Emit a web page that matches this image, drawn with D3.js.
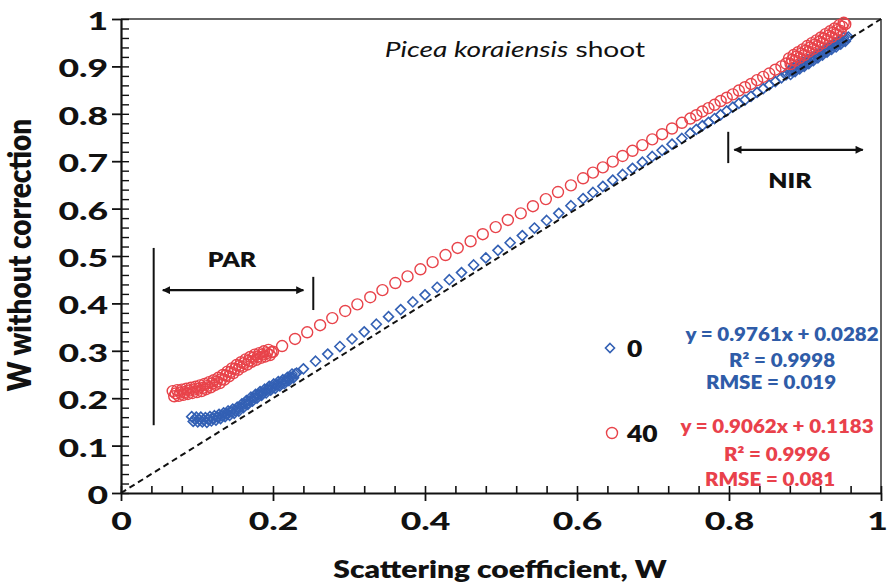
<!DOCTYPE html>
<html><head><meta charset="utf-8">
<script src="https://cdn.jsdelivr.net/npm/d3@7"></script>
<style>body{margin:0;background:#fff}svg{display:block}text{font-family:Lato,"Open Sans",sans-serif}</style>
</head><body><svg id="c" width="890" height="586"></svg>
<script>
// ---------------- data ----------------
const seriesNames = ["0", "40"];
const blueX = [0.093,0.095,0.097,0.099,0.101,0.103,0.105,0.107,0.109,0.111,0.113,0.115,0.117,0.119,0.121,0.123,0.125,0.127,0.129,0.131,0.133,0.135,0.137,0.139,0.141,0.143,0.145,0.147,0.149,0.151,0.153,0.155,0.157,0.159,0.161,0.163,0.165,0.167,0.169,0.171,0.173,0.175,0.177,0.179,0.181,0.183,0.185,0.187,0.189,0.191,0.193,0.195,0.197,0.199,0.201,0.203,0.205,0.207,0.209,0.211,0.213,0.215,0.217,0.219,0.221,0.223,0.225,0.227,0.229,0.231,
  0.240,0.256,0.272,0.288,0.304,0.320,0.336,0.352,0.368,0.384,0.400,0.416,0.432,0.448,0.464,0.480,0.496,0.512,0.528,0.544,0.560,0.576,0.592,0.608,
  0.621,0.634,0.647,0.660,0.673,0.686,0.699,0.712,0.725,0.738,
  0.749,0.757,0.765,0.773,0.781,0.789,0.797,0.805,0.813,0.821,0.829,0.837,0.845,0.853,0.861,0.869,0.875,
  0.879,0.881,0.883,0.885,0.887,0.889,0.891,0.893,0.895,0.897,0.899,0.901,0.903,0.905,0.907,0.909,0.911,0.913,0.915,0.917,0.919,0.921,0.923,0.925,0.927,0.929,0.931,0.933,0.935,0.937,0.939,0.941,0.943,0.945,0.947,0.949,0.951,0.953,0.955,0.957];
const blueY = [0.161,0.151,0.156,0.160,0.150,0.155,0.160,0.150,0.154,0.159,0.149,0.155,0.161,0.152,0.157,0.163,0.154,0.160,0.166,0.157,0.163,0.169,0.161,0.167,0.173,0.164,0.171,0.177,0.168,0.174,0.181,0.173,0.181,0.188,0.180,0.188,0.195,0.187,0.194,0.202,0.194,0.201,0.208,0.200,0.207,0.214,0.206,0.212,0.219,0.211,0.218,0.225,0.217,0.223,0.230,0.221,0.228,0.235,0.226,0.233,0.239,0.231,0.237,0.244,0.237,0.244,0.251,0.243,0.251,0.253,
  0.262,0.278,0.293,0.309,0.325,0.340,0.356,0.372,0.387,0.403,0.418,0.434,0.450,0.465,0.481,0.496,0.512,0.528,0.543,0.559,0.575,0.590,0.606,0.621,
  0.634,0.647,0.660,0.672,0.685,0.698,0.710,0.723,0.736,0.748,
  0.759,0.767,0.775,0.782,0.790,0.798,0.806,0.814,0.822,0.829,0.837,0.845,0.853,0.861,0.868,0.876,0.882,
  0.891,0.883,0.890,0.897,0.889,0.896,0.903,0.895,0.902,0.909,0.900,0.907,0.914,0.906,0.913,0.920,0.912,0.919,0.926,0.918,0.925,0.932,0.924,0.931,0.938,0.930,0.937,0.944,0.936,0.943,0.949,0.941,0.948,0.955,0.947,0.954,0.961,0.953,0.960,0.962];
const redX = [0.068,0.070,0.072,0.074,0.076,0.078,0.080,0.082,0.084,0.086,0.088,0.090,0.092,0.094,0.096,0.098,0.100,0.102,0.104,0.106,0.108,0.110,0.112,0.114,0.116,0.118,0.120,0.122,0.124,0.126,0.128,0.130,0.132,0.134,0.136,0.138,0.140,0.142,0.144,0.146,0.148,0.150,0.152,0.154,0.156,0.158,0.160,0.162,0.164,0.166,0.168,0.170,0.172,0.174,0.176,0.178,0.180,0.182,0.184,0.186,0.188,0.190,0.192,0.194,0.196,0.198,0.200,
  0.212,0.229,0.245,0.262,0.278,0.295,0.311,0.328,0.344,0.361,0.377,0.394,0.410,0.427,0.443,0.460,0.476,0.493,0.509,0.526,0.542,0.559,0.575,0.592,0.608,
  0.621,0.634,0.647,0.660,0.673,0.686,0.699,0.712,0.725,0.738,
  0.749,0.757,0.765,0.773,0.781,0.789,0.797,0.805,0.813,0.821,0.829,0.837,0.845,0.853,0.861,0.869,0.875,
  0.879,0.881,0.883,0.885,0.887,0.889,0.891,0.893,0.895,0.897,0.899,0.901,0.903,0.905,0.907,0.909,0.911,0.913,0.915,0.917,0.919,0.921,0.923,0.925,0.927,0.929,0.931,0.933,0.935,0.937,0.939,0.941,0.943,0.945,0.947,0.949,0.951,0.953];
const redY = [0.215,0.204,0.210,0.217,0.205,0.212,0.218,0.207,0.213,0.220,0.209,0.216,0.222,0.211,0.218,0.224,0.213,0.220,0.227,0.215,0.222,0.230,0.219,0.226,0.234,0.223,0.231,0.238,0.228,0.235,0.243,0.232,0.240,0.249,0.239,0.248,0.256,0.246,0.255,0.263,0.253,0.262,0.270,0.260,0.268,0.276,0.266,0.274,0.282,0.271,0.279,0.287,0.277,0.285,0.292,0.281,0.288,0.295,0.285,0.292,0.299,0.288,0.295,0.302,0.291,0.297,0.298,
  0.310,0.325,0.339,0.354,0.369,0.384,0.398,0.413,0.428,0.443,0.457,0.472,0.487,0.502,0.517,0.531,0.546,0.561,0.576,0.590,0.605,0.620,0.635,0.649,0.664,
  0.676,0.687,0.699,0.711,0.722,0.734,0.746,0.757,0.769,0.781,
  0.790,0.797,0.805,0.812,0.819,0.827,0.834,0.841,0.849,0.856,0.863,0.871,0.878,0.885,0.893,0.900,0.906,
  0.917,0.905,0.914,0.924,0.912,0.921,0.930,0.918,0.927,0.936,0.924,0.933,0.943,0.931,0.940,0.949,0.937,0.946,0.955,0.943,0.952,0.961,0.949,0.959,0.968,0.956,0.965,0.974,0.962,0.971,0.980,0.968,0.977,0.987,0.975,0.984,0.992,0.989];
const xTickValues = [0, 0.2, 0.4, 0.6, 0.8, 1];
const xTickLabels = ["0", "0.2", "0.4", "0.6", "0.8", "1"];
const yTickValues = [0, 0.1, 0.2, 0.3, 0.4, 0.5, 0.6, 0.7, 0.8, 0.9, 1];
const yTickLabels = ["0", "0.1", "0.2", "0.3", "0.4", "0.5", "0.6", "0.7", "0.8", "0.9", "1"];
const fitBlue = ["y = 0.9761x + 0.0282", "R² = 0.9998", "RMSE = 0.019"];
const fitRed = ["y = 0.9062x + 0.1183", "R² = 0.9996", "RMSE = 0.081"];

// ---------------- drawing ----------------
const TSX = 1.42; // horizontal stretch of tick lettering
const BLUE = "#3360b4", RED = "#e8434a", BLUE_T = "#2f5ca8", RED_T = "#e9414b";
const svg = d3.select("#c");
const x = d3.scaleLinear().domain([0, 1]).range([121, 881]);
const y = d3.scaleLinear().domain([0, 1]).range([493, 19]);

function stext(px, py, str, o = {}) {
  const g = svg.append("g").attr("transform", `translate(${px},${py}) scale(${o.sx || 1.2},1)` + (o.rot ? ` rotate(${o.rot})` : ""));
  const t = g.append("text").attr("text-anchor", o.anchor || "middle")
    .attr("font-size", o.size || 20).attr("font-weight", o.weight || 800)
    .attr("fill", o.fill || "#111");
  if (o.parts) o.parts.forEach(p => t.append("tspan").attr("font-style", p.italic ? "italic" : "normal").text(p.t));
  else t.text(str);
  return t;
}

// frame
svg.append("line").attr("x1", x(0)).attr("x2", x(1)).attr("y1", y(1)).attr("y2", y(1)).attr("stroke", "#333").attr("stroke-width", 1.5);
svg.append("line").attr("x1", x(1)).attr("x2", x(1)).attr("y1", y(1)).attr("y2", y(0)).attr("stroke", "#333").attr("stroke-width", 1.5);

// minor ticks (inside)
const xMinor = d3.range(0, 1.0001, 0.04);
const yMinor = d3.range(0, 1.0001, 0.02);
svg.append("g").attr("transform", `translate(0,${y(0)})`)
  .call(d3.axisTop(x).tickValues(xMinor).tickSize(7).tickSizeOuter(0).tickFormat(""))
  .call(g => g.select(".domain").remove()).selectAll("line").attr("stroke", "#111").attr("stroke-width", 1.6);
svg.append("g").attr("transform", `translate(${x(0)},0)`)
  .call(d3.axisRight(y).tickValues(yMinor).tickSize(8).tickSizeOuter(0).tickFormat(""))
  .call(g => g.select(".domain").remove()).selectAll("line").attr("stroke", "#111").attr("stroke-width", 1.4);

// major axes
const xa = svg.append("g").attr("transform", `translate(0,${y(0)})`)
  .call(d3.axisBottom(x).tickValues(xTickValues).tickSize(8).tickSizeOuter(0).tickFormat((d, i) => xTickLabels[i]));
xa.select(".domain").attr("stroke", "#111").attr("stroke-width", 2.2);
xa.selectAll("line").attr("stroke", "#111").attr("stroke-width", 1.8);
xa.selectAll("text").attr("font-size", 25).attr("font-weight", 900).attr("fill", "#111")
  .attr("font-family", "Lato").attr("y", 37).attr("dy", 0).attr("transform", `scale(${TSX},1)`)
  .attr("x", d => d === 1 ? -4 / TSX : 0);

const ya = svg.append("g").attr("transform", `translate(${x(0)},0)`)
  .call(d3.axisLeft(y).tickValues(yTickValues).tickSize(9).tickSizeOuter(0).tickFormat((d, i) => yTickLabels[i]));
ya.select(".domain").attr("stroke", "#111").attr("stroke-width", 2.2);
ya.selectAll("line").attr("stroke", "#111").attr("stroke-width", 1.8);
ya.selectAll("text").attr("font-size", 25).attr("font-weight", 900).attr("fill", "#111")
  .attr("font-family", "Lato").attr("x", -13 / TSX).attr("dy", "0.42em").attr("transform", `scale(${TSX},1)`);

// series markers
const blue = blueX.map((v, i) => [v, blueY[i]]);
const red = redX.map((v, i) => [v, redY[i]]);
svg.append("g").selectAll("path").data(blue).join("path")
  .attr("d", "M0,-5L5,0L0,5L-5,0Z")
  .attr("transform", d => `translate(${x(d[0])},${y(d[1])})`)
  .attr("fill", "none").attr("stroke", BLUE).attr("stroke-width", 1.6);
svg.append("g").selectAll("circle").data(red).join("circle")
  .attr("cx", d => x(d[0])).attr("cy", d => y(d[1])).attr("r", 5.5)
  .attr("fill", "none").attr("stroke", RED).attr("stroke-width", 1.4);

// 1:1 line
svg.append("line").attr("x1", x(0)).attr("y1", y(0)).attr("x2", x(1)).attr("y2", y(1))
  .attr("stroke", "#111").attr("stroke-width", 2).attr("stroke-dasharray", "6,4");

// arrows
const defs = svg.append("defs");
defs.append("marker").attr("id", "ah").attr("viewBox", "0 0 10 10").attr("refX", 9).attr("refY", 5)
  .attr("markerWidth", 10).attr("markerHeight", 8).attr("markerUnits", "userSpaceOnUse").attr("orient", "auto-start-reverse")
  .append("path").attr("d", "M0,0L10,5L0,10Z").attr("fill", "#111");
function vbar(xv, y0, y1) {
  svg.append("line").attr("x1", x(xv)).attr("x2", x(xv)).attr("y1", y(y0)).attr("y2", y(y1)).attr("stroke", "#111").attr("stroke-width", 2);
}
function arrow(x0, x1, yv) {
  svg.append("line").attr("x1", x(x0)).attr("x2", x(x1)).attr("y1", y(yv)).attr("y2", y(yv))
    .attr("stroke", "#111").attr("stroke-width", 2.2).attr("marker-start", "url(#ah)").attr("marker-end", "url(#ah)");
}
vbar(0.043, 0.143, 0.517); vbar(0.253, 0.386, 0.456); arrow(0.055, 0.240, 0.428);
stext(x(0.146), y(0.477), "PAR", { size: 21, sx: 1.18 });
vbar(0.799, 0.696, 0.762); arrow(0.807, 0.976, 0.724);
stext(x(0.880), y(0.643), "NIR", { size: 21, sx: 1.18 });

// title
stext(515, 57, null, { size: 22, weight: "normal", sx: 1.28, parts: [{ t: "Picea koraiensis", italic: true }, { t: " shoot" }] });

// axis titles
stext(500, 578, "Scattering coefficient, W", { size: 25, sx: 1.2 });
stext(31, 255, "W without correction", { size: 28, rot: -90, sx: 1.15 });

// legend
svg.append("path").attr("d", "M0,-4.5L4.5,0L0,4.5L-4.5,0Z").attr("transform", "translate(610,348)")
  .attr("fill", "none").attr("stroke", BLUE).attr("stroke-width", 1.6);
stext(627, 357, seriesNames[0], { size: 22, anchor: "start", sx: 1.2 });
svg.append("circle").attr("cx", 612).attr("cy", 433).attr("r", 5.5).attr("fill", "none").attr("stroke", RED).attr("stroke-width", 1.4);
stext(627, 442, seriesNames[1], { size: 22, anchor: "start", sx: 1.2 });

// fit annotations
const fs = { size: 18, sx: 1.14 };
stext(782, 341, fitBlue[0], { ...fs, fill: BLUE_T });
stext(782, 367, fitBlue[1], { ...fs, fill: BLUE_T });
stext(771, 389, fitBlue[2], { ...fs, fill: BLUE_T });
stext(777, 433, fitRed[0], { ...fs, fill: RED_T });
stext(777, 461, fitRed[1], { ...fs, fill: RED_T });
stext(770, 486, fitRed[2], { ...fs, fill: RED_T });
</script></body></html>
